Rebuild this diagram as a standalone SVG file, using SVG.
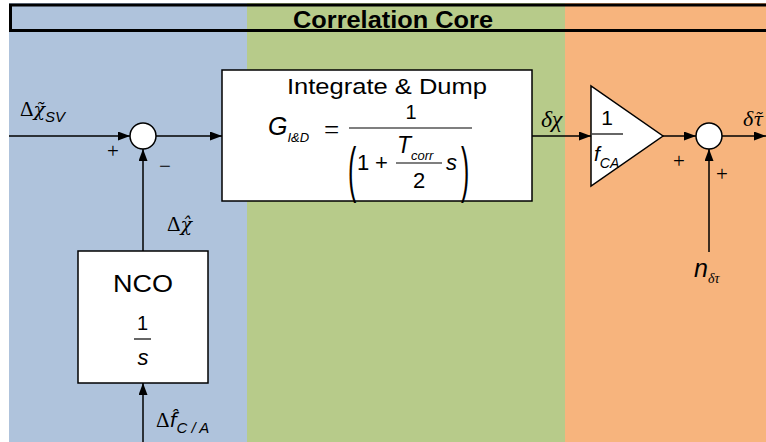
<svg xmlns="http://www.w3.org/2000/svg" width="766" height="442" viewBox="0 0 766 442">
<style>
.ln{stroke:#000;stroke-width:1.5;fill:none}
.blk{fill:#fff;stroke:#000;stroke-width:1.5}
.bar{stroke:#000;stroke-width:1.2}
.sans{font-family:"Liberation Sans",Arial,sans-serif;fill:#000}
.serif{font-family:"Liberation Serif","Times New Roman",serif;fill:#000}
.dj{font-family:"DejaVu Serif",serif;fill:#000}
.djs{font-family:"DejaVu Sans",sans-serif;fill:#000}
.it{font-style:italic}
</style>
<defs>
<marker id="arr" markerUnits="userSpaceOnUse" markerWidth="13" markerHeight="10" refX="12" refY="4.5" orient="auto">
<path d="M0,0 L12,4.5 L0,9 Z" fill="#000"/>
</marker>
</defs>
<g id="background">
<rect x="9" y="3" width="238" height="439" fill="#AFC3DC"/>
<rect x="247" y="3" width="318" height="439" fill="#B7CB8A"/>
<rect x="565" y="3" width="201" height="439" fill="#F7B47D"/>
</g>
<g id="header">
<rect x="10.5" y="5" width="770" height="25.5" fill="none" stroke="#000" stroke-width="3"/>
<text class="sans" x="293" y="27.5" font-size="24" font-weight="bold" textLength="200" lengthAdjust="spacingAndGlyphs">Correlation Core</text>
</g>
<g id="connectors">
<path class="ln" d="M9,136 H130" marker-end="url(#arr)"/>
<path class="ln" d="M156,136 H222" marker-end="url(#arr)"/>
<path class="ln" d="M143,251 V149" marker-end="url(#arr)"/>
<path class="ln" d="M143,442 V383" marker-end="url(#arr)"/>
<path class="ln" d="M532,136 H591" marker-end="url(#arr)"/>
<path class="ln" d="M663,136 H696" marker-end="url(#arr)"/>
<path class="ln" d="M722,136 H766" marker-end="url(#arr)"/>
<path class="ln" d="M709,252 V149" marker-end="url(#arr)"/>
</g>
<g id="labels">
<text class="serif" x="20" y="116" font-size="21">Δ<tspan class="dj it" font-size="19">χ̃</tspan><tspan class="sans it" font-size="15" dy="6">SV</tspan></text>
<text class="serif" x="107" y="158" font-size="21">+</text>
<text class="serif" x="159" y="173" font-size="21">−</text>
<text class="serif" x="167" y="231" font-size="21">Δ<tspan class="dj it" font-size="19">χ̂</tspan></text>
<text class="serif" x="156" y="427" font-size="21">Δ<tspan class="djs it" font-size="20">f̂</tspan><tspan class="sans it" font-size="15" dy="6">C / A</tspan></text>
<text class="serif it" x="541" y="127" font-size="24">δχ</text>
<text class="serif" x="673" y="168" font-size="21">+</text>
<text class="serif" x="716" y="181" font-size="21">+</text>
<text class="serif it" x="743" y="126" font-size="22">δ<tspan class="dj" font-size="18">τ̃</tspan></text>
<text class="sans it" x="694" y="277" font-size="25">n<tspan class="serif" font-size="14" dy="6">δτ</tspan></text>
</g>
<g id="sum1">
<circle class="blk" cx="143" cy="136" r="13"/>
</g>
<g id="integrate-dump">
<rect class="blk" x="222" y="70" width="310" height="131"/>
<text class="sans" x="287" y="94" font-size="22" textLength="200" lengthAdjust="spacingAndGlyphs">Integrate &amp; Dump</text>
<text class="sans it" x="268" y="135" font-size="25">G<tspan font-size="13" dy="7">I&amp;D</tspan></text>
<text class="serif" x="324" y="139" font-size="27">=</text>
<line class="bar" x1="349" y1="128" x2="472" y2="128"/>
<text class="sans" x="411" y="119" font-size="20" text-anchor="middle">1</text>
<text class="sans" transform="translate(348,190) scale(0.4,1)" font-size="62">(</text>
<text class="sans" transform="translate(461,190) scale(0.4,1)" font-size="62">)</text>
<text class="sans" x="357" y="170" font-size="22">1</text>
<text class="sans" x="375" y="170" font-size="22">+</text>
<text class="sans it" x="397" y="153" font-size="23">T<tspan font-size="13" dy="7">corr</tspan></text>
<line class="bar" x1="396" y1="163" x2="442" y2="163"/>
<text class="sans" x="419" y="188" font-size="22" text-anchor="middle">2</text>
<text class="sans it" x="446" y="170" font-size="22">s</text>
</g>
<g id="gain">
<polygon class="blk" points="591,86 591,186 663,136"/>
<text class="sans" x="607" y="125" font-size="21" text-anchor="middle">1</text>
<line class="bar" x1="592" y1="134" x2="623" y2="134"/>
<text class="sans it" x="594" y="161" font-size="21">f<tspan font-size="14" dy="7">CA</tspan></text>
</g>
<g id="sum2">
<circle class="blk" cx="709" cy="136" r="13"/>
</g>
<g id="nco">
<rect class="blk" x="78" y="251" width="130" height="132"/>
<text class="sans" x="143" y="292" font-size="23" text-anchor="middle" textLength="60" lengthAdjust="spacingAndGlyphs">NCO</text>
<text class="sans" x="142.5" y="330" font-size="20" text-anchor="middle">1</text>
<line class="bar" x1="134" y1="339" x2="151" y2="339"/>
<text class="sans it" x="143" y="365" font-size="22" text-anchor="middle">s</text>
</g>
</svg>
